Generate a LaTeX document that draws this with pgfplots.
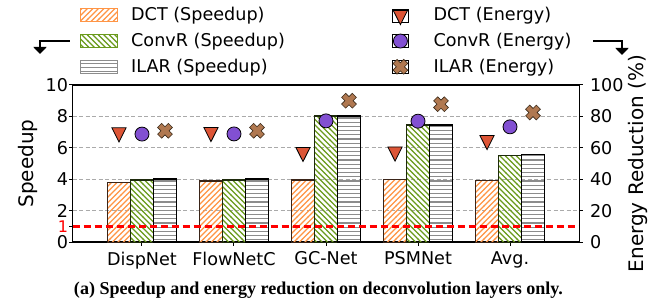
\documentclass[border=0pt]{standalone}
\usepackage{fontspec}
\setmainfont{DejaVu Sans}
\newfontfamily\capfont{Liberation Serif}
\usepackage{pgfplots}
\usepackage{pgfplotstable}
\pgfplotsset{compat=1.18}
\usetikzlibrary{patterns, arrows.meta}

\definecolor{dctor}{HTML}{FF9545}
\definecolor{dctedge}{HTML}{3A2418}
\definecolor{convg}{HTML}{6A9A1C}
\definecolor{convedge}{HTML}{1E2A0C}
\definecolor{ilarg}{HTML}{8C8C8C}
\definecolor{tricol}{HTML}{DD5536}
\definecolor{circcol}{HTML}{8250D2}
\definecolor{xcol}{HTML}{B07850}
\definecolor{xedge}{HTML}{3A2A1A}
\definecolor{gridc}{HTML}{AAAAAA}

\pgfdeclarepatternformonly{hatchne}{\pgfqpoint{-1pt}{-1pt}}{\pgfqpoint{6.5pt}{6.5pt}}{\pgfqpoint{5.5pt}{5.5pt}}{%
 \pgfsetlinewidth{1.3pt}\pgfpathmoveto{\pgfqpoint{-0.2pt}{-0.2pt}}\pgfpathlineto{\pgfqpoint{5.7pt}{5.7pt}}\pgfusepath{stroke}}
\pgfdeclarepatternformonly{hatchnw}{\pgfqpoint{-1pt}{-1pt}}{\pgfqpoint{6.5pt}{6.5pt}}{\pgfqpoint{5.5pt}{5.5pt}}{%
 \pgfsetlinewidth{1.3pt}\pgfpathmoveto{\pgfqpoint{-0.2pt}{5.7pt}}\pgfpathlineto{\pgfqpoint{5.7pt}{-0.2pt}}\pgfusepath{stroke}}
\pgfdeclarepatternformonly{hatchh}{\pgfqpoint{-1pt}{0pt}}{\pgfqpoint{5pt}{4.2pt}}{\pgfqpoint{4pt}{4.2pt}}{%
 \pgfsetlinewidth{1.2pt}\pgfpathmoveto{\pgfqpoint{-1pt}{2.1pt}}\pgfpathlineto{\pgfqpoint{5pt}{2.1pt}}\pgfusepath{stroke}}

\pgfdeclareplotmark{fatx}{%
 \pgftransformrotate{45}%
 \pgfpathmoveto{\pgfpoint{-0.38\pgfplotmarksize}{\pgfplotmarksize}}%
 \pgfpathlineto{\pgfpoint{0.38\pgfplotmarksize}{\pgfplotmarksize}}%
 \pgfpathlineto{\pgfpoint{0.38\pgfplotmarksize}{0.38\pgfplotmarksize}}%
 \pgfpathlineto{\pgfpoint{\pgfplotmarksize}{0.38\pgfplotmarksize}}%
 \pgfpathlineto{\pgfpoint{\pgfplotmarksize}{-0.38\pgfplotmarksize}}%
 \pgfpathlineto{\pgfpoint{0.38\pgfplotmarksize}{-0.38\pgfplotmarksize}}%
 \pgfpathlineto{\pgfpoint{0.38\pgfplotmarksize}{-\pgfplotmarksize}}%
 \pgfpathlineto{\pgfpoint{-0.38\pgfplotmarksize}{-\pgfplotmarksize}}%
 \pgfpathlineto{\pgfpoint{-0.38\pgfplotmarksize}{-0.38\pgfplotmarksize}}%
 \pgfpathlineto{\pgfpoint{-\pgfplotmarksize}{-0.38\pgfplotmarksize}}%
 \pgfpathlineto{\pgfpoint{-\pgfplotmarksize}{0.38\pgfplotmarksize}}%
 \pgfpathlineto{\pgfpoint{-0.38\pgfplotmarksize}{0.38\pgfplotmarksize}}%
 \pgfpathclose
 \pgfusepathqfillstroke
}

\pgfplotstableread{
x xa xc dct conv ilar edct econv eilar
0 -0.25 0.25 3.79 3.96 4.02 69.8 68.8 70.9
1 0.75 1.25 3.90 3.96 4.02 70.0 68.9 70.9
2 1.75 2.25 3.96 8.03 8.03 57.3 77.2 90.0
3 2.75 3.25 4.00 7.46 7.46 57.6 77.0 87.8
4 3.75 4.25 3.93 5.53 5.57 64.9 73.4 82.5
}\datatable

\pgfplotsset{
 common/.style={
  at={(0pt,0pt)}, anchor=south west,
  scale only axis, width=506.6pt, height=157.3pt,
  xmin=-0.753, xmax=4.753,
  tick align=outside, major tick length=3.5pt,
  every tick/.style={black, line width=1pt},
  axis line style={line width=1.6pt},
  /pgf/number format/assume math mode=true,
  tick label style={font=\fontsize{17.6}{21}\selectfont},
  label style={font=\fontsize{20}{24}\selectfont},
 },
 barleg/.style={legend image code/.code={\draw[##1] (0pt,-6.5pt) rectangle (37pt,6.5pt);}},
 markleg/.style={legend image code/.code={\path (-8pt,-6.5pt) rectangle (8pt,6.5pt); \draw[##1] plot coordinates {(0pt,0pt)};}},
}

\begin{document}
\fontsize{17.6}{21}\selectfont
\begin{tikzpicture}
\begin{axis}[common,
 ymin=0, ymax=10,
 xtick={0,1,2,3,4}, xticklabels={DispNet,FlowNetC,GC-Net,PSMNet,Avg.},
 ytick={0,2,4,6,8,10},
 extra y ticks={1}, extra y tick labels={1},
 extra y tick style={ymajorgrids=false, yticklabel style={text=red, font=\fontsize{16}{18}\selectfont}},
 xtick pos=bottom, ytick pos=left,
 ymajorgrids, major grid style={gridc, dash pattern=on 4pt off 2.5pt, line width=1pt},
 yticklabel style={inner xsep=1pt, inner ysep=0pt},
 ylabel={Speedup},
 ylabel style={at={(axis description cs:-0.088,0.5)}, anchor=center, rotate=0},
 legend style={at={(0.01441,1.5083)}, anchor=north west, draw=none, fill=none,
   inner sep=0pt, row sep=5.8pt, nodes={inner sep=2pt, text depth=0.15em},
   font=\fontsize{17.6}{21}\selectfont,
   /tikz/every odd column/.append style={column sep=11pt}},
 legend cell align=left,
]
\addlegendimage{barleg, draw=dctor, line width=1pt, pattern=hatchne, pattern color=dctor}
\addlegendimage{barleg, draw=convg, line width=1pt, pattern=hatchnw, pattern color=convg}
\addlegendimage{barleg, draw=ilarg, line width=1pt, pattern=hatchh, pattern color=ilarg}
\addplot[ybar, bar width=0.25, bar shift=0pt, forget plot, draw=dctedge, line width=1.5pt,
  pattern=hatchne, pattern color=dctor] table[x=xa, y=dct] {\datatable};
\addplot[ybar, bar width=0.25, bar shift=0pt, forget plot, draw=convedge, line width=1.5pt,
  pattern=hatchnw, pattern color=convg] table[x=x, y=conv] {\datatable};
\addplot[ybar, bar width=0.25, bar shift=0pt, forget plot, draw=black, line width=1.5pt,
  pattern=hatchh, pattern color=ilarg] table[x=xc, y=ilar] {\datatable};
\addplot[red, line width=2.2pt, dash pattern=on 7pt off 4pt, forget plot] coordinates {(-0.753,1) (4.753,1)};
\legend{DCT (Speedup), ConvR (Speedup), ILAR (Speedup)}
\end{axis}
\begin{axis}[common,
 ymin=0, ymax=100,
 axis x line=none, axis y line*=right,
 ytick={0,20,40,60,80,100},
 yticklabel style={inner xsep=1pt, inner ysep=0pt, xshift=6pt},
 ylabel={Energy Reduction (\%)},
 ylabel style={at={(axis description cs:1.1159,0.5)}, anchor=center, rotate=0},
 legend style={at={(0.6303,1.5083)}, anchor=north west, draw=none, fill=none,
   inner sep=0pt, row sep=5.8pt, nodes={inner sep=2pt, text depth=0.15em},
   font=\fontsize{17.6}{21}\selectfont,
   /tikz/every odd column/.append style={column sep=23pt}},
 legend cell align=left,
]
\addplot[only marks, markleg, mark=triangle*, mark size=8.2pt,
  mark options={rotate=180, yscale=1.15, fill=tricol, draw=black, line width=0.8pt}] table[x=xa, y=edct] {\datatable};
\addplot[only marks, markleg, mark=*, mark size=7pt,
  mark options={fill=circcol, draw=black, line width=0.8pt}] table[x=x, y=econv] {\datatable};
\addplot[only marks, markleg, mark=fatx, mark size=7.6pt,
  mark options={fill=xcol, draw=xedge, line width=0.6pt}] table[x=xc, y=eilar] {\datatable};
\legend{DCT (Energy), ConvR (Energy), ILAR (Energy)}
\end{axis}
\draw[line width=1.8pt, -{Triangle[width=13pt,length=7pt]}] (-2.7pt,201.6pt) -- (-32.7pt,201.6pt) -- (-32.7pt,188.3pt);
\draw[line width=1.8pt, -{Triangle[width=13pt,length=7pt]}] (520.3pt,201.3pt) -- (549.3pt,201.3pt) -- (549.3pt,187.3pt);
\node[anchor=center, inner sep=0pt] at (245.8pt,-47.7pt) {\resizebox{489pt}{!}{\capfont\bfseries (a) Speedup and energy reduction on deconvolution layers only.}};
\pgfresetboundingbox
\useasboundingbox (-72.7pt,-62.7pt) rectangle (594.3pt,242.3pt);
\end{tikzpicture}
\end{document}
